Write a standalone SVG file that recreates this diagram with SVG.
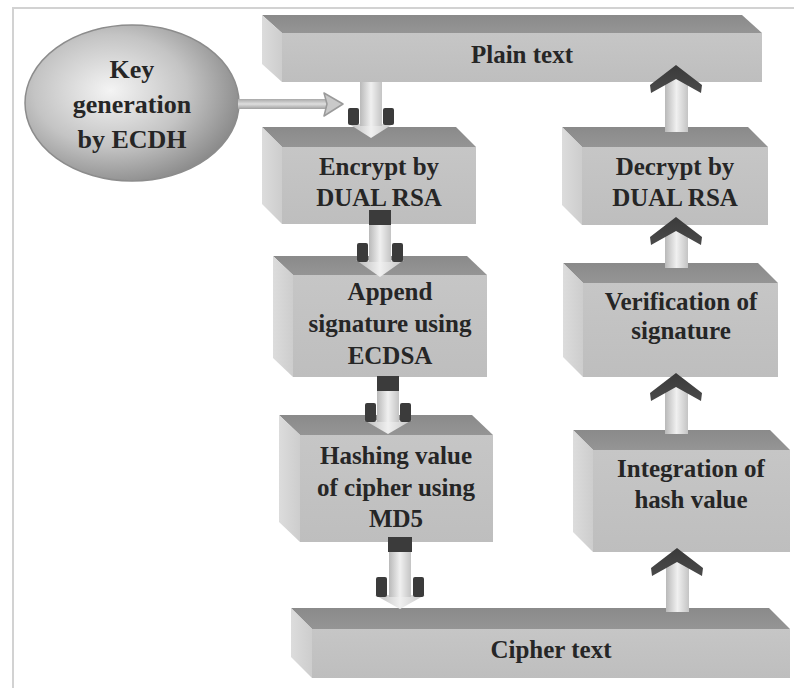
<svg xmlns="http://www.w3.org/2000/svg" width="794" height="688" viewBox="0 0 794 688">
<defs>
<style>
.top{fill:url(#gTop)}
.side{fill:url(#gSide)}
.front{fill:url(#gFront)}
.lbl{font-family:"Liberation Serif","Times New Roman",serif;font-weight:bold;font-size:25px;fill:#262626;text-anchor:middle}
.shaft{fill:url(#gShaft)}
.dark{fill:#3b3b3b}
.chev{fill:url(#gChev)}
</style>
<linearGradient id="gTop" x1="0" y1="0" x2="0" y2="1">
<stop offset="0" stop-color="#8a8a8a"/><stop offset="1" stop-color="#959595"/>
</linearGradient>
<linearGradient id="gSide" x1="0" y1="0" x2="1" y2="0">
<stop offset="0" stop-color="#dcdcdc"/><stop offset="1" stop-color="#cdcdcd"/>
</linearGradient>
<linearGradient id="gFront" x1="0" y1="0" x2="0" y2="1">
<stop offset="0" stop-color="#c6c6c6"/><stop offset="1" stop-color="#bebebe"/>
</linearGradient>
<linearGradient id="gShaft" x1="0" y1="0" x2="1" y2="0">
<stop offset="0" stop-color="#b9b9b9"/><stop offset="0.5" stop-color="#f0f0f0"/><stop offset="1" stop-color="#c4c4c4"/>
</linearGradient>
<linearGradient id="gHShaft" x1="0" y1="0" x2="0" y2="1">
<stop offset="0" stop-color="#a8a8a8"/><stop offset="0.5" stop-color="#dedede"/><stop offset="1" stop-color="#a0a0a0"/>
</linearGradient>
<linearGradient id="gChev" x1="0" y1="0" x2="0" y2="1">
<stop offset="0" stop-color="#3a3a3a"/><stop offset="1" stop-color="#4a4a4a"/>
</linearGradient>
<radialGradient id="gEll" cx="0.4" cy="0.42" r="0.65">
<stop offset="0" stop-color="#f4f4f4"/><stop offset="0.55" stop-color="#c4c4c4"/><stop offset="1" stop-color="#858585"/>
</radialGradient>
</defs>
<rect width="794" height="688" fill="#ffffff"/>
<path d="M13 688 V8 H794" fill="none" stroke="#d2d2d2" stroke-width="2"/>

<g id="key">
<ellipse cx="132" cy="103" rx="107" ry="78" fill="url(#gEll)" stroke="#8c8c8c" stroke-width="1.5"/>
<text class="lbl" font-size="26" style="font-size:26px" x="132" y="78">Key</text>
<text class="lbl" style="font-size:26px" x="132" y="113">generation</text>
<text class="lbl" style="font-size:26px" x="132" y="148">by ECDH</text>
</g>

<g id="plain">
<polygon class="top" points="262,15 742,15 762,33 282,33"/>
<polygon class="side" points="262,15 282,33 282,82 262,64"/>
<rect class="front" x="282" y="33" width="480" height="49"/>
<text class="lbl" x="522" y="63">Plain text</text>
</g>

<g id="encrypt">
<polygon class="top" points="262,127 456,127 476,147 282,147"/>
<polygon class="side" points="262,127 282,147 282,224 262,204"/>
<rect class="front" x="282" y="147" width="194" height="77"/>
<text class="lbl" x="379" y="175">Encrypt by</text>
<text class="lbl" x="379" y="206">DUAL RSA</text>
</g>

<g id="append">
<polygon class="top" points="273,256 467,256 487,275 293,275"/>
<polygon class="side" points="273,256 293,275 293,377 273,358"/>
<rect class="front" x="293" y="275" width="194" height="102"/>
<text class="lbl" x="390" y="300">Append</text>
<text class="lbl" x="390" y="332">signature using</text>
<text class="lbl" x="390" y="364">ECDSA</text>
</g>

<g id="hashing">
<polygon class="top" points="279,415 472,415 493,435 300,435"/>
<polygon class="side" points="279,415 300,435 300,542 279,522"/>
<rect class="front" x="300" y="435" width="193" height="107"/>
<text class="lbl" x="396" y="464">Hashing value</text>
<text class="lbl" x="396" y="496">of cipher using</text>
<text class="lbl" x="396" y="527">MD5</text>
</g>

<g id="cipher">
<polygon class="top" points="291,608 769,608 790,629 312,629"/>
<polygon class="side" points="291,608 312,629 312,678 291,657"/>
<rect class="front" x="312" y="629" width="478" height="49"/>
<text class="lbl" x="551" y="658">Cipher text</text>
</g>

<g id="decrypt">
<polygon class="top" points="562,127 748,127 768,147 582,147"/>
<polygon class="side" points="562,127 582,147 582,225 562,205"/>
<rect class="front" x="582" y="147" width="186" height="78"/>
<text class="lbl" x="675" y="175">Decrypt by</text>
<text class="lbl" x="675" y="206">DUAL RSA</text>
</g>

<g id="verification">
<polygon class="top" points="563,263 758,263 778,283 583,283"/>
<polygon class="side" points="563,263 583,283 583,377 563,357"/>
<rect class="front" x="583" y="283" width="195" height="94"/>
<text class="lbl" x="681" y="310">Verification of</text>
<text class="lbl" x="681" y="339">signature</text>
</g>

<g id="integration">
<polygon class="top" points="573,430 770,430 790,450 593,450"/>
<polygon class="side" points="573,430 593,450 593,552 573,532"/>
<rect class="front" x="593" y="450" width="197" height="102"/>
<text class="lbl" x="691" y="477">Integration of</text>
<text class="lbl" x="691" y="508">hash value</text>
</g>

<g id="connectors">
<!-- key -> plain/encrypt arrow -->
<rect x="238" y="99" width="90" height="10" fill="url(#gHShaft)"/>
<polygon points="324,93 343,104 324,116 327,104" fill="#c9c9c9" stroke="#9a9a9a" stroke-width="1.5" stroke-linejoin="round"/>

<!-- Plain -> Encrypt -->
<polygon class="shaft" points="349,124 393,124 371,138"/>
<rect class="shaft" x="360" y="82" width="22" height="44"/>
<rect class="dark" x="348" y="108" width="11" height="17" rx="2"/>
<rect class="dark" x="383" y="108" width="11" height="17" rx="2"/>

<!-- Encrypt -> Append -->
<polygon class="shaft" points="356,260 404,260 380,277"/>
<rect class="shaft" x="369" y="224" width="22" height="38"/>
<rect class="dark" x="369" y="210" width="22" height="15"/>
<rect class="dark" x="357" y="243" width="11" height="19" rx="2"/>
<rect class="dark" x="392" y="243" width="11" height="19" rx="2"/>

<!-- Append -> Hashing -->
<polygon class="shaft" points="364,420 412,420 388,434"/>
<rect class="shaft" x="377" y="390" width="22" height="32"/>
<rect class="dark" x="377" y="376" width="22" height="15"/>
<rect class="dark" x="365" y="403" width="11" height="19" rx="2"/>
<rect class="dark" x="400" y="403" width="11" height="19" rx="2"/>

<!-- Hashing -> Cipher -->
<polygon class="shaft" points="375,595 425,595 400,609"/>
<rect class="shaft" x="389" y="551" width="22" height="46"/>
<rect class="dark" x="388" y="537" width="24" height="15"/>
<rect class="dark" x="376" y="577" width="11" height="20" rx="2"/>
<rect class="dark" x="413" y="577" width="11" height="20" rx="2"/>

<!-- Decrypt -> Plain -->
<rect class="shaft" x="665" y="79" width="23" height="53"/>
<polygon class="chev" points="676,65 702,85 701,93 676,79 651,93 650,85"/>

<!-- Verification -> Decrypt -->
<rect class="shaft" x="665" y="231" width="23" height="37"/>
<polygon class="chev" points="676,217 702,237 701,245 676,231 651,245 650,237"/>

<!-- Integration -> Verification -->
<rect class="shaft" x="665" y="387" width="23" height="47"/>
<polygon class="chev" points="676,373 702,393 701,401 676,387 651,401 650,393"/>

<!-- Cipher -> Integration -->
<rect class="shaft" x="666" y="562" width="23" height="50"/>
<polygon class="chev" points="677,548 703,568 702,576 677,562 652,576 651,568"/>
</g>
</svg>
